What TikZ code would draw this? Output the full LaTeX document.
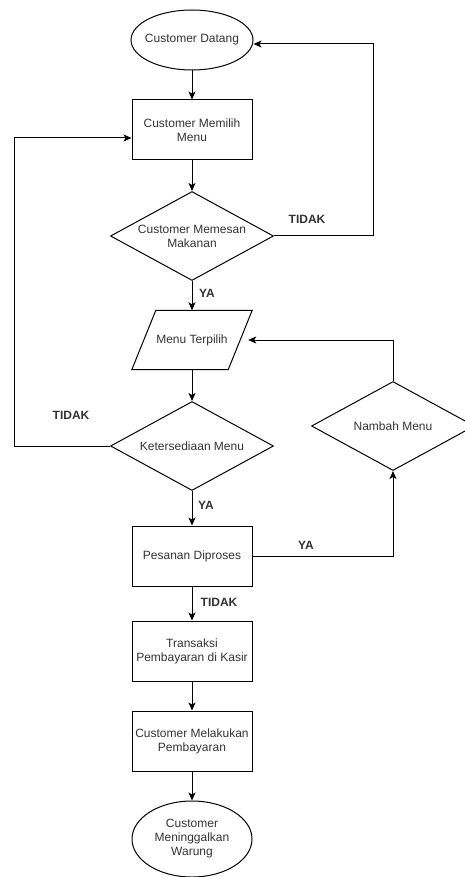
\documentclass[tikz,border=0pt]{standalone}
\usepackage{fontspec}
\setmainfont{Liberation Sans}
\usetikzlibrary{arrows.meta, shapes.geometric}
\definecolor{garis}{HTML}{000000}
\definecolor{teks}{HTML}{333333}
\tikzset{
  tulisan/.style={text=teks, font=\fontsize{12}{14}\selectfont, align=center},
  proses/.style={tulisan, draw=garis, line width=1pt, rectangle, minimum width=120pt, minimum height=60pt, inner sep=0pt},
  keputusan/.style={tulisan, draw=garis, line width=1pt, diamond, shape aspect=1.83, minimum width=163pt, minimum height=89pt, inner sep=0pt},
  terminal/.style={tulisan, draw=garis, line width=1pt, ellipse, minimum width=122pt, minimum height=60pt, inner xsep=-12pt, inner ysep=0pt},
  dataio/.style={tulisan, rectangle, minimum width=120pt, minimum height=59pt, inner sep=0pt},
  alur/.style={-{Stealth[length=8pt, width=7pt, inset=2pt]}, line width=1pt, color=garis},
  ket/.style={text=teks, font=\fontsize{12}{14}\selectfont\bfseries}
}
\begin{document}
\begin{tikzpicture}[x=1pt, y=-1pt]
\clip (0,0) rectangle (465,877);
\node[terminal] (datang) at (192,40) {Customer Datang};
\node[proses] (pilih) at (192,130) {Customer Memilih\\Menu};
\node[keputusan] (pesan) at (192,236) {Customer Memesan\\Makanan};
\node[dataio] (terpilih) at (192,340) {Menu Terpilih};
\draw[garis, line width=1pt] ([xshift=24pt]terpilih.north west) -- (terpilih.north east)
  -- ([xshift=-24pt]terpilih.south east) -- (terpilih.south west) -- cycle;
\node[keputusan] (sedia) at (192,446) {Ketersediaan Menu};
\node[keputusan] (nambah) at (393,426) {Nambah Menu};
\node[proses] (diproses) at (192,556) {Pesanan Diproses};
\node[proses] (transaksi) at (192,651) {Transaksi\\Pembayaran di Kasir};
\node[proses] (bayar) at (192,741) {Customer Melakukan\\Pembayaran};
\node[terminal, minimum width=120pt, minimum height=76pt] (pulang) at (192,839) {Customer\\Meninggalkan\\Warung};

\coordinate (kanan) at (373,44);
\coordinate (kiri) at (14,138);

\draw[alur] (datang) -- (pilih);
\draw[alur] (pilih) -- (pesan);
\draw[alur] (pesan.east) -| (kanan) -- ([yshift=-4pt]datang.east);
\draw[alur] (pesan) -- (terpilih);
\draw[alur] (terpilih) -- (sedia);
\draw[alur] (sedia.west) -| (kiri) -- ([yshift=-8pt]pilih.west);
\draw[alur] (sedia) -- (diproses);
\draw[alur] (diproses.east) -| (nambah.south);
\draw[alur] (nambah.north) |- ([xshift=-4pt]terpilih.east);
\draw[alur] (diproses) -- (transaksi);
\draw[alur] (transaksi) -- (bayar);
\draw[alur] (bayar) -- (pulang);

\node[ket] (tidak1) at (307,219) {TIDAK};
\node[ket] (ya1) at (207,293) {YA};
\node[ket] (tidak2) at (71,415) {TIDAK};
\node[ket] (ya2) at (206,505) {YA};
\node[ket] (ya3) at (306,545) {YA};
\node[ket] (tidak3) at (219,602) {TIDAK};
\end{tikzpicture}
\end{document}
